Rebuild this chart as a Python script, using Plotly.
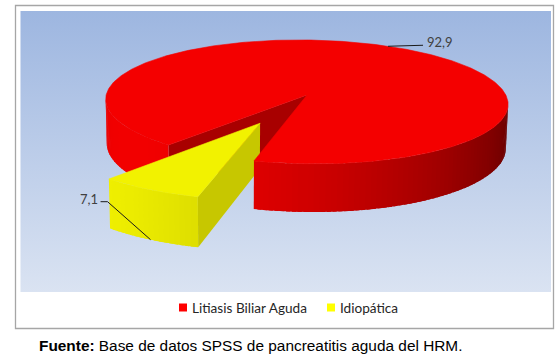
import numpy as np
import plotly.graph_objects as go

# ---------------- data ----------------
categories = ["Litiasis Biliar Aguda", "Idiopática"]
values = [92.9, 7.1]
value_labels = [f"{v:.1f}".replace(".", ",") for v in values]
caption_bold = "Fuente:"
caption_rest = " Base de datos SPSS de pancreatitis aguda del HRM."

# ---------------- style ----------------
W, H = 558, 356
base_rgb = [(255, 0, 0), (255, 255, 0)]
top_shade = [0.955, 0.95]
side_shade = [0.66, 0.78]
explode = [0.0, 0.5]
first_angle = 219.0          # degrees, clockwise from 12 o'clock
CX, CY = 307.0, 95.0
SCALE = 200.0
PHI = np.radians(17.8)       # elevation
DIST = 8.55                  # perspective distance (radius units)
ROLL = np.radians(0.8)
DEPTH = 0.23                 # pie thickness (radius units)
LIGHT = np.radians(145)
AMB, DIF = 0.64, 0.31
STEP = np.radians(1.5)

PLOT_BOX = (20.5, 11, 551, 292)
BORDER_BOX = (15.5, 5.5, 553.5, 328.5)
BG_TOP, BG_BOTTOM = "#9db6e0", "#dae3f2"
LEADERS = [[(35, -1)], [(-43, -38), (-7, 0)]]
LEGEND_X = [179, 327]
LEGEND_Y = 307.5
FONT_LABEL = "Lato"
FONT_CAPTION = "Liberation Sans, Arial"


def shade(rgb, k):
    return "rgb(%d,%d,%d)" % tuple(int(round(max(0, min(255, c * k)))) for c in rgb)


def project(x, y, z):
    x = np.asarray(x, float)
    y = np.asarray(y, float)
    z = np.asarray(z, float)
    w = y * np.cos(PHI) + z * np.sin(PHI)
    v = -y * np.sin(PHI) + z * np.cos(PHI)
    f = DIST / (DIST - w)
    X = SCALE * x * f
    Yd = -SCALE * v * f
    px = CX + X * np.cos(ROLL) - Yd * np.sin(ROLL)
    py = CY + X * np.sin(ROLL) + Yd * np.cos(ROLL)
    return px, py


cam = np.array([0.0, DIST * np.cos(PHI), DIST * np.sin(PHI)])


def depth_of(pts):
    c = np.mean(pts, axis=0)
    return c[1] * np.cos(PHI) + c[2] * np.sin(PHI)


def is_visible(pt, n):
    return float(np.dot(cam - pt, n)) > 0


total = float(sum(values))
slices = []
cum = 0.0
for i, v in enumerate(values):
    t0 = np.radians(-90 + first_angle + 360 * cum / total)
    t1 = np.radians(-90 + first_angle + 360 * (cum + v) / total)
    cum += v
    tm = 0.5 * (t0 + t1)
    ox, oy = explode[i] * np.cos(tm), explode[i] * np.sin(tm)
    slices.append(dict(t0=t0, t1=t1, tm=tm, ox=ox, oy=oy))

side_faces = []   # (depth, xs, ys, color)
top_faces = []

for i, s in enumerate(slices):
    ox, oy = s["ox"], s["oy"]
    # radial faces
    for t, sign in ((s["t0"], 1), (s["t1"], -1)):
        n = np.array([sign * np.sin(t), -sign * np.cos(t), 0.0])
        pts = np.array([
            [ox, oy, 0], [ox + np.cos(t), oy + np.sin(t), 0],
            [ox + np.cos(t), oy + np.sin(t), -DEPTH], [ox, oy, -DEPTH]])
        if is_visible(pts.mean(axis=0), n):
            px, py = project(pts[:, 0], pts[:, 1], pts[:, 2])
            side_faces.append((depth_of(pts), list(px) + [px[0]], list(py) + [py[0]],
                               shade(base_rgb[i], side_shade[i])))
    # outer wall facets (slightly overlapping to avoid seams)
    nseg = max(2, int(np.ceil((s["t1"] - s["t0"]) / STEP)))
    ts = np.linspace(s["t0"], s["t1"], nseg + 1)
    dt = ts[1] - ts[0]
    for j, (a, b) in enumerate(zip(ts[:-1], ts[1:])):
        m = 0.5 * (a + b)
        n = np.array([np.cos(m), np.sin(m), 0.0])
        pc = np.array([ox + np.cos(m), oy + np.sin(m), -DEPTH / 2])
        if not is_visible(pc, n):
            continue
        a2 = a - (0.35 * dt if j > 0 else 0)
        b2 = b + (0.35 * dt if j < nseg - 1 else 0)
        pts = np.array([
            [ox + np.cos(a2), oy + np.sin(a2), 0], [ox + np.cos(b2), oy + np.sin(b2), 0],
            [ox + np.cos(b2), oy + np.sin(b2), -DEPTH], [ox + np.cos(a2), oy + np.sin(a2), -DEPTH]])
        px, py = project(pts[:, 0], pts[:, 1], pts[:, 2])
        k = AMB + DIF * np.cos(m - LIGHT)
        side_faces.append((depth_of(pts), list(px) + [px[0]], list(py) + [py[0]],
                           shade(base_rgb[i], k)))
    # top face
    arc = np.linspace(s["t0"], s["t1"], max(8, nseg * 2))
    xs3 = np.concatenate([[ox], ox + np.cos(arc), [ox]])
    ys3 = np.concatenate([[oy], oy + np.sin(arc), [oy]])
    px, py = project(xs3, ys3, np.zeros_like(xs3))
    pts = np.stack([xs3, ys3, np.zeros_like(xs3)], axis=1)
    top_faces.append((depth_of(pts), list(px), list(py), shade(base_rgb[i], top_shade[i])))

fig = go.Figure()

# plot-area gradient background
x0, y0, x1, y1 = PLOT_BOX
fig.add_trace(go.Scatter(
    x=[x0, x1, x1, x0, x0], y=[y0, y0, y1, y1, y0], mode="none", fill="toself",
    fillgradient=dict(type="vertical", colorscale=[[0, BG_TOP], [1, BG_BOTTOM]],
                      start=y0, stop=y1),
    hoverinfo="skip", showlegend=False))

for d, xs, ys, col in sorted(side_faces, key=lambda r: r[0]):
    fig.add_trace(go.Scatter(x=xs, y=ys, mode="none", fill="toself", fillcolor=col,
                             hoverinfo="skip", showlegend=False))
for d, xs, ys, col in sorted(top_faces, key=lambda r: r[0]):
    fig.add_trace(go.Scatter(x=xs, y=ys, mode="lines", fill="toself", fillcolor=col,
                             line=dict(color=col, width=0.6), hoverinfo="skip",
                             showlegend=False))

# data labels with leader lines
annotations = []
for i, s in enumerate(slices):
    tm = s["tm"]
    z = -DEPTH if np.sin(tm) > 0 else 0.0
    ax, ay = project(s["ox"] + np.cos(tm), s["oy"] + np.sin(tm), z)
    lx, ly = [float(ax)], [float(ay)]
    for dx, dy in LEADERS[i]:
        lx.append(lx[-1] + dx)
        ly.append(ly[-1] + dy)
    fig.add_trace(go.Scatter(x=lx, y=ly, mode="lines", line=dict(color="#1a1a1a", width=1),
                             hoverinfo="skip", showlegend=False))
    right = np.cos(tm) > 0
    annotations.append(dict(
        x=lx[-1], y=ly[-1], xref="x", yref="y", text=value_labels[i], showarrow=False,
        xanchor="left" if right else "right", yanchor="middle",
        xshift=2 if right else -1, yshift=3,
        font=dict(family=FONT_LABEL, size=13, color="#404040")))

# legend (manual)
shapes = []
for i, name in enumerate(categories):
    lx = LEGEND_X[i]
    shapes.append(dict(type="rect", xref="x", yref="y", x0=lx, x1=lx + 8,
                       y0=LEGEND_Y - 4, y1=LEGEND_Y + 4,
                       fillcolor=shade(base_rgb[i], 1.0), line=dict(width=0)))
    annotations.append(dict(
        x=lx + 11, y=LEGEND_Y, xref="x", yref="y", text=name, showarrow=False,
        xanchor="left", yanchor="middle",
        font=dict(family=FONT_LABEL, size=13.6, color="#262626")))

bx0, by0, bx1, by1 = BORDER_BOX
shapes.append(dict(type="rect", xref="x", yref="y", x0=bx0, x1=bx1, y0=by0, y1=by1,
                   line=dict(color="#a6a6a6", width=1.3), fillcolor="rgba(0,0,0,0)",
                   layer="above"))

annotations.append(dict(
    x=37, y=345.5, xref="x", yref="y", showarrow=False, xanchor="left", yanchor="middle",
    text=f"<b>{caption_bold}</b>{caption_rest}",
    font=dict(family=FONT_CAPTION, size=15.4, color="#000000")))

fig.update_layout(
    width=W, height=H, margin=dict(l=0, r=0, t=0, b=0),
    paper_bgcolor="white", plot_bgcolor="white",
    xaxis=dict(range=[0, W], visible=False, fixedrange=True),
    yaxis=dict(range=[H, 0], visible=False, fixedrange=True),
    shapes=shapes, annotations=annotations, showlegend=False)

fig.write_html("out.html")
